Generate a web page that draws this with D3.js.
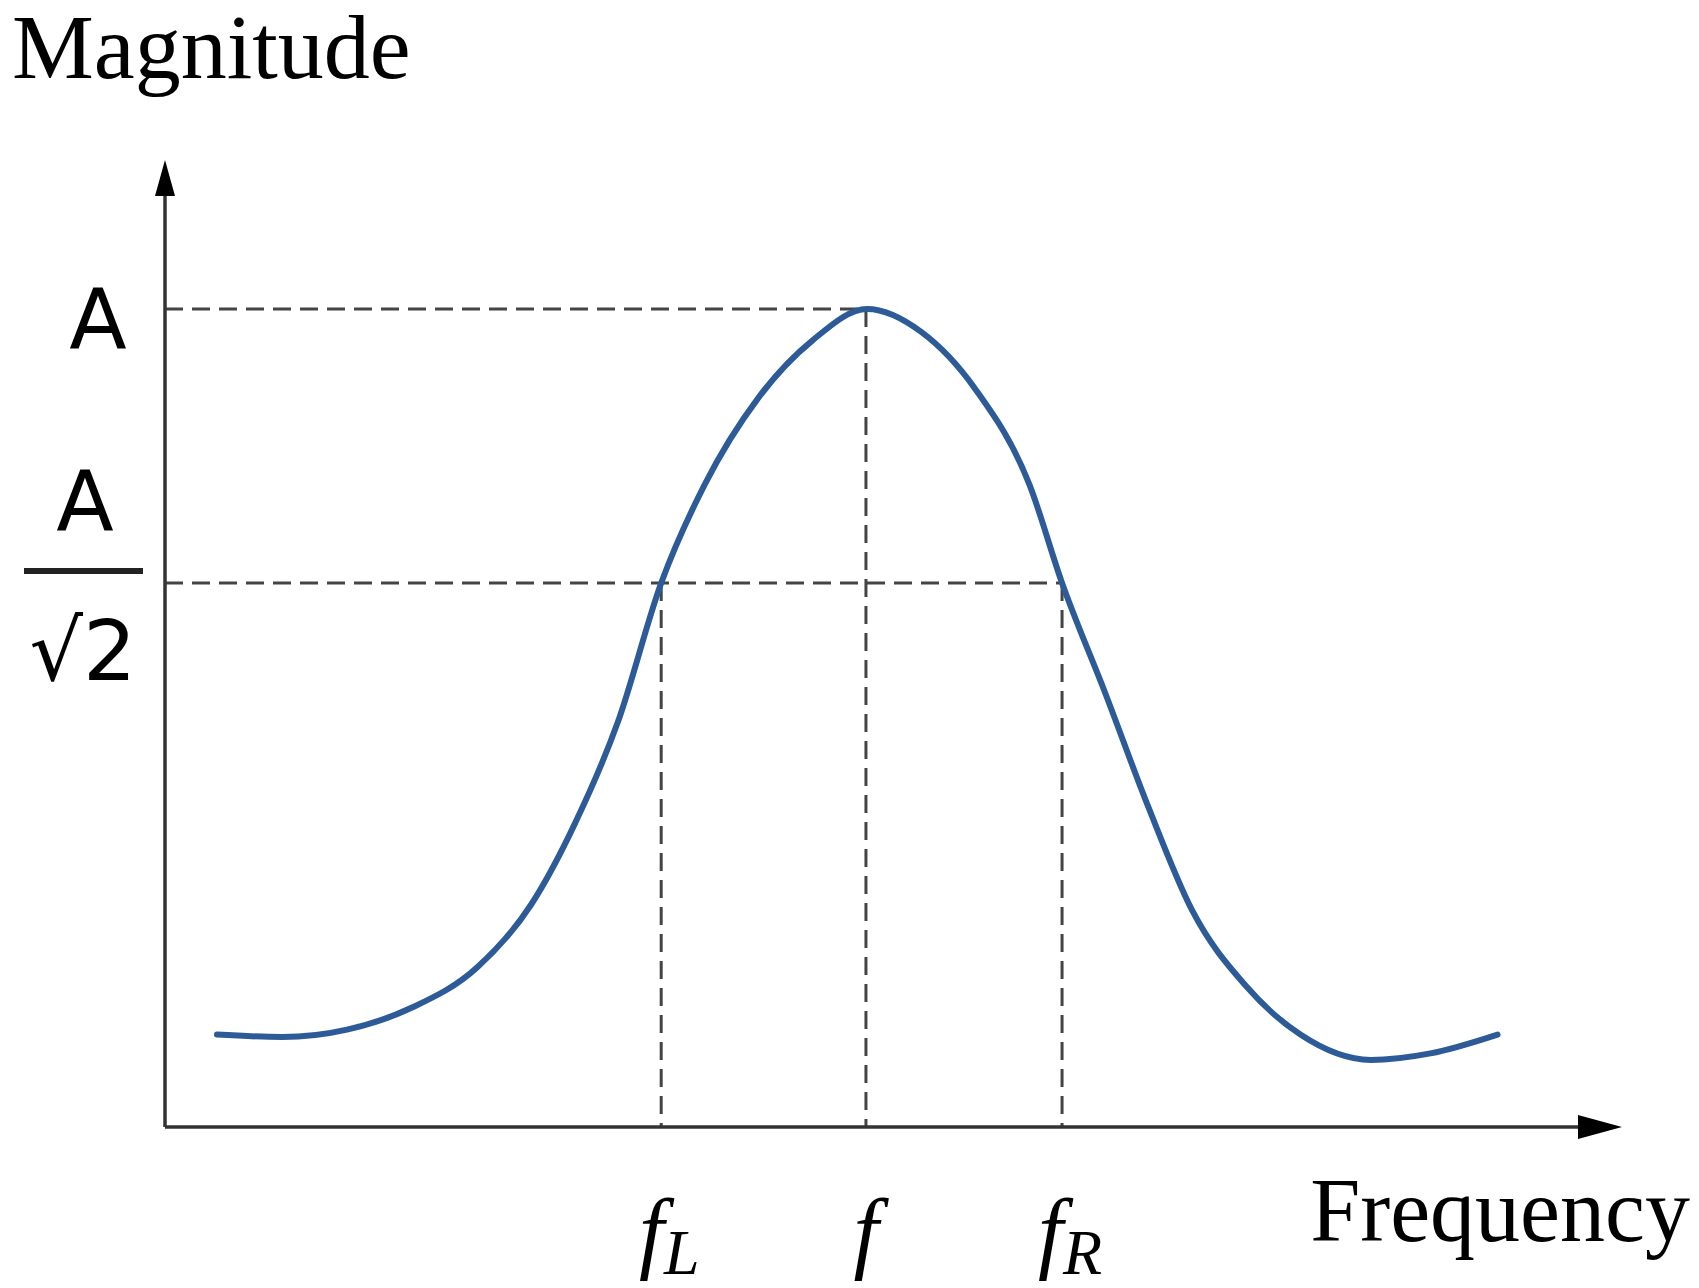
<!DOCTYPE html>
<html><head><meta charset="utf-8">
<script src="https://cdn.jsdelivr.net/npm/d3@7"></script>
<style>body{margin:0;background:#fff}</style>
</head><body>
<svg id="chart" width="1699" height="1288"></svg>
<script>
// curve (frequency in picture units, magnitude relative to A)
const freqs = [200,260,320,380,440,490,530,570,610,650,700,750,800,850,900,950,980,1020,1060,1100,1150,1200,1265,1320,1382];
const mags = [0.113,0.110,0.119,0.146,0.195,0.272,0.370,0.495,0.665,0.785,0.892,0.962,1.0,0.972,0.902,0.785,0.665,0.530,0.390,0.265,0.172,0.113,0.082,0.090,0.113];
const markFreqs = [610, 799, 980];
const markNames = ["L", "", "R"];
const levelA = 1.0, levelHalf = 0.665;

const svg = d3.select("#chart");
const x = d3.scaleLinear().domain([152, 1495]).range([165, 1620]);
const y = d3.scaleLinear().domain([0, 1]).range([1127, 309]);

// dashed guides
const dash = svg.append("g").attr("stroke", "#444").attr("stroke-width", 3).attr("stroke-dasharray", "18,9");
dash.append("line").attr("x1", x(152)).attr("x2", x(799)).attr("y1", y(levelA)).attr("y2", y(levelA));
dash.append("line").attr("x1", x(152)).attr("x2", x(980)).attr("y1", y(levelHalf)).attr("y2", y(levelHalf));
dash.selectAll(".v").data(markFreqs).join("line")
    .attr("x1", d => x(d)).attr("x2", d => x(d))
    .attr("y1", (d,i) => i == 1 ? y(levelA) : y(levelHalf)).attr("y2", y(0));

// curve
svg.append("path").datum(freqs.map((f,i) => [f, mags[i]]))
    .attr("fill", "none").attr("stroke", "#2d5b98").attr("stroke-width", 6)
    .attr("stroke-linecap", "round")
    .attr("d", d3.line().x(d => x(d[0])).y(d => y(d[1])).curve(d3.curveMonotoneX));

// axes
const ax = svg.append("g").attr("stroke", "#333").attr("stroke-width", 3.5);
ax.append("line").attr("x1", x(152)).attr("x2", x(152)).attr("y1", y(0)).attr("y2", 185);
ax.append("line").attr("x1", x(152)).attr("x2", 1595).attr("y1", y(0)).attr("y2", y(0));
svg.append("path").attr("d", `M${x(152)},160 L${x(152)-10},196 L${x(152)+10},196 Z`).attr("fill", "#000");
svg.append("path").attr("d", `M1622,${y(0)} L1578,${y(0)-12} L1578,${y(0)+12} Z`).attr("fill", "#000");

// text
const serif = "'Liberation Serif','Times New Roman',serif";
const sans = "'DejaVu Sans',sans-serif";
svg.append("text").attr("x", 12).attr("y", 78).attr("font-family", serif).attr("font-size", 92).text("Magnitude");
svg.append("text").attr("x", 1690).attr("y", 1241).attr("text-anchor", "end").attr("font-family", serif).attr("font-size", 90).text("Frequency");
svg.append("text").attr("x", 98).attr("y", y(levelA) + 40).attr("text-anchor", "middle").attr("font-family", sans).attr("font-size", 84).text("A");
svg.append("text").attr("x", 85).attr("y", 531).attr("text-anchor", "middle").attr("font-family", sans).attr("font-size", 84).text("A");
svg.append("line").attr("x1", 24).attr("x2", 143).attr("y1", 571).attr("y2", 571).attr("stroke", "#222").attr("stroke-width", 6);
svg.append("text").attr("x", 83).attr("y", 680).attr("text-anchor", "middle").attr("font-family", sans).attr("font-size", 84).text("√2");

const lab = svg.selectAll(".lab").data(markFreqs).join("text")
    .attr("x", (d,i) => x(d) + (i == 1 ? 0 : 8)).attr("y", 1262).attr("text-anchor", "middle")
    .attr("font-family", serif).attr("font-style", "italic").attr("font-size", 90);
lab.append("tspan").text("f");
lab.append("tspan").attr("font-size", 64).attr("dy", 12).text((d,i) => markNames[i]);
</script>
</body></html>
